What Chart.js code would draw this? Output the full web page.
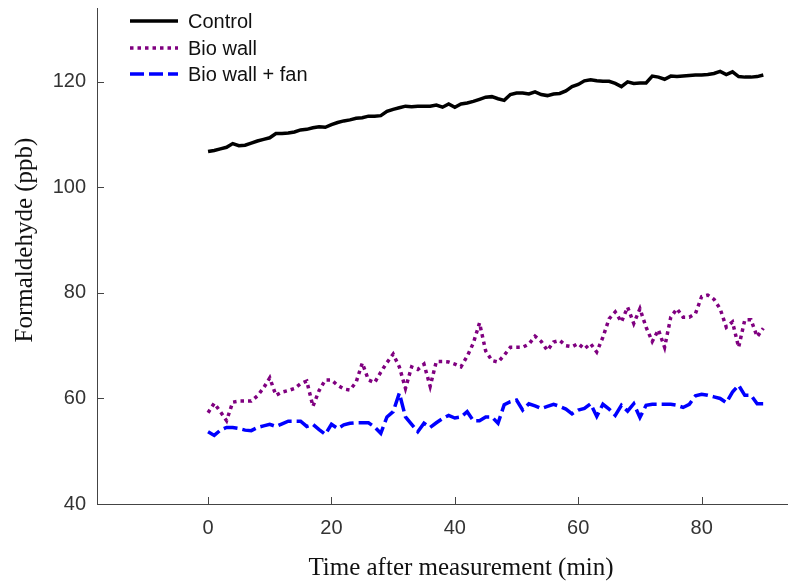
<!DOCTYPE html>
<html>
<head>
<meta charset="utf-8">
<script src="https://cdn.jsdelivr.net/npm/chart.js@4/dist/chart.umd.min.js"></script>
<style>
  html, body { margin: 0; padding: 0; background: #fff; }
  #wrap { width: 788px; height: 582px; }
</style>
</head>
<body>
<div id="wrap"><canvas id="myChart" width="788" height="582"></canvas></div>
<script>
const minutes = [0,1,2,3,4,5,6,7,8,9,10,11,12,13,14,15,16,17,18,19,20,21,22,23,24,25,26,27,28,29,30,
  31,32,33,34,35,36,37,38,39,40,41,42,43,44,45,46,47,48,49,50,51,52,53,54,55,56,57,58,59,60,
  61,62,63,64,65,66,67,68,69,70,71,72,73,74,75,76,77,78,79,80,81,82,83,84,85,86,87,88,89,90];

const control = [106.8,107,107.3,107.6,108.3,107.9,108,108.4,108.8,109.1,109.4,110.2,110.2,110.3,110.5,110.9,
  111,111.3,111.5,111.4,111.9,112.3,112.6,112.8,113.1,113.2,113.5,113.5,113.6,114.4,114.8,115.1,115.4,115.3,
  115.4,115.4,115.4,115.6,115.2,115.8,115.2,115.8,116,116.3,116.7,117.1,117.2,116.8,116.5,117.6,117.9,117.9,
  117.7,118.1,117.6,117.4,117.7,117.8,118.3,119.1,119.5,120.2,120.4,120.2,120.1,120.1,119.7,119.1,120,119.7,
  119.8,119.8,121.1,120.9,120.5,121.1,121,121.1,121.2,121.3,121.3,121.4,121.6,122,121.4,121.9,121,120.9,
  120.9,121,121.3];

const bioWall = [57.3,59.1,57.5,55.8,59.3,59.5,59.5,59.5,60.5,62,63.9,60.6,61.2,61.5,61.9,62.8,63.3,58.5,
  61.5,63.5,63.5,62.5,61.8,61.6,63.1,66.7,63.5,63,65,66.8,68.4,66,61.9,66,65.5,66.5,62.3,67,67,66.9,66.5,
  66,68,70.5,74.3,69,67.2,66.9,68.2,69.7,69.7,69.7,70.3,71.8,70.8,69.1,70.7,71,70,69.8,70.4,69.4,70.4,68.8,
  71.6,75.1,76.4,74.5,77.3,74.2,77,73.5,70.8,73,69.7,75.4,77,75.4,75.4,76.1,79.3,79.6,78.8,77,73.5,74.5,
  69.7,74.9,74.9,71.7,73.3];

const bioWallFan = [53.7,53,54,54.5,54.5,54.3,54,53.9,54.5,54.8,55.1,54.7,55.2,55.7,55.7,55.7,54.7,55.1,
  54.1,53.2,55.1,54.3,55,55.3,55.4,55.4,55.4,54.6,53.4,56.5,57.5,61,56.5,55.1,53.7,55.3,54.5,55.4,56.2,56.8,
  56.3,56.5,57.5,55.8,55.8,56.5,56.5,55.3,58.8,59.4,59.7,57.8,59,58.6,58.1,58.5,58.9,58.5,58,57.1,57.8,58.1,
  59,56.6,58.9,58,56.8,58.7,57.6,59,56.4,58.7,58.9,58.9,58.9,58.9,58.7,58.3,58.9,60.5,60.8,60.6,60.3,60,
  59.2,61.2,62.5,60.6,60.6,59,59];

const xTicks = [0, 20, 40, 60, 80];
const yTicks = [40, 60, 80, 100, 120];
const seriesNames = ["Control", "Bio wall", "Bio wall + fan"];

const xy = (vals) => vals.map((v, i) => ({ x: minutes[i], y: v }));

// inward tick marks, axis titles and the legend box
const extras = {
  id: "extras",
  afterDraw(chart) {
    const ctx = chart.ctx;
    const xs = chart.scales.x, ys = chart.scales.y;
    const area = chart.chartArea;
    ctx.save();
    ctx.strokeStyle = "#444";
    ctx.lineWidth = 1;
    ctx.setLineDash([]);
    xTicks.forEach(v => {
      const px = Math.round(xs.getPixelForValue(v)) + 0.5;
      ctx.beginPath();
      ctx.moveTo(px, area.bottom);
      ctx.lineTo(px, area.bottom - 7);
      ctx.stroke();
    });
    yTicks.forEach(v => {
      const py = Math.round(ys.getPixelForValue(v)) + 0.5;
      ctx.beginPath();
      ctx.moveTo(area.left, py);
      ctx.lineTo(area.left + 7, py);
      ctx.stroke();
    });

    ctx.fillStyle = "#111";
    ctx.font = "25px 'Liberation Serif', 'Times New Roman', serif";
    ctx.textAlign = "center";
    ctx.textBaseline = "middle";
    ctx.fillText("Time after measurement (min)", 461, 568);
    ctx.translate(25, 240);
    ctx.rotate(-Math.PI / 2);
    ctx.fillText("Formaldehyde (ppb)", 0, 0);
    ctx.restore();

    ctx.save();
    const rows = [21, 48, 74];
    chart.data.datasets.forEach((ds, i) => {
      ctx.strokeStyle = ds.borderColor;
      ctx.lineWidth = ds.borderWidth;
      ctx.setLineDash(ds.borderDash || []);
      ctx.beginPath();
      ctx.moveTo(130, rows[i]);
      ctx.lineTo(178, rows[i]);
      ctx.stroke();
      ctx.setLineDash([]);
      ctx.fillStyle = "#111";
      ctx.font = "20px 'Liberation Sans', Arial, sans-serif";
      ctx.textAlign = "left";
      ctx.textBaseline = "middle";
      ctx.fillText(ds.label, 188, rows[i] + 1);
    });
    ctx.restore();
  }
};

const ctx = document.getElementById("myChart").getContext("2d");
new Chart(ctx, {
  type: "line",
  data: {
    datasets: [
      {
        label: seriesNames[0],
        data: xy(control),
        borderColor: "#000000",
        borderWidth: 3.5,
      },
      {
        label: seriesNames[1],
        data: xy(bioWall),
        borderColor: "#800080",
        borderWidth: 3.5,
        borderDash: [3.5, 4],
      },
      {
        label: seriesNames[2],
        data: xy(bioWallFan),
        borderColor: "#0000ff",
        borderWidth: 3.5,
        borderDash: [14, 5],
      },
    ],
  },
  options: {
    responsive: false,
    animation: false,
    events: [],
    elements: {
      point: { radius: 0 },
      line: { tension: 0, fill: false },
    },
    layout: { padding: { top: 8, left: 0, right: 0, bottom: 0 } },
    plugins: {
      legend: { display: false },
      tooltip: { enabled: false },
    },
    scales: {
      x: {
        type: "linear",
        min: -18,
        max: 94,
        grid: { display: false },
        border: { display: true, color: "#444", width: 1 },
        afterBuildTicks: (s) => { s.ticks = xTicks.map(v => ({ value: v })); },
        afterFit: (s) => { s.height = 78; s.paddingLeft = 0; s.paddingRight = 0; },
        ticks: {
          color: "#333",
          padding: 4,
          maxRotation: 0,
          font: { family: "'Liberation Sans', Arial, sans-serif", size: 20 },
        },
      },
      y: {
        min: 40,
        max: 134,
        grid: { display: false },
        border: { display: true, color: "#444", width: 1 },
        afterBuildTicks: (s) => { s.ticks = yTicks.map(v => ({ value: v })); },
        afterFit: (s) => { s.width = 97; s.paddingTop = 0; s.paddingBottom = 0; },
        ticks: {
          color: "#333",
          padding: 3,
          font: { family: "'Liberation Sans', Arial, sans-serif", size: 20 },
        },
      },
    },
  },
  plugins: [extras],
});
</script>
</body>
</html>
